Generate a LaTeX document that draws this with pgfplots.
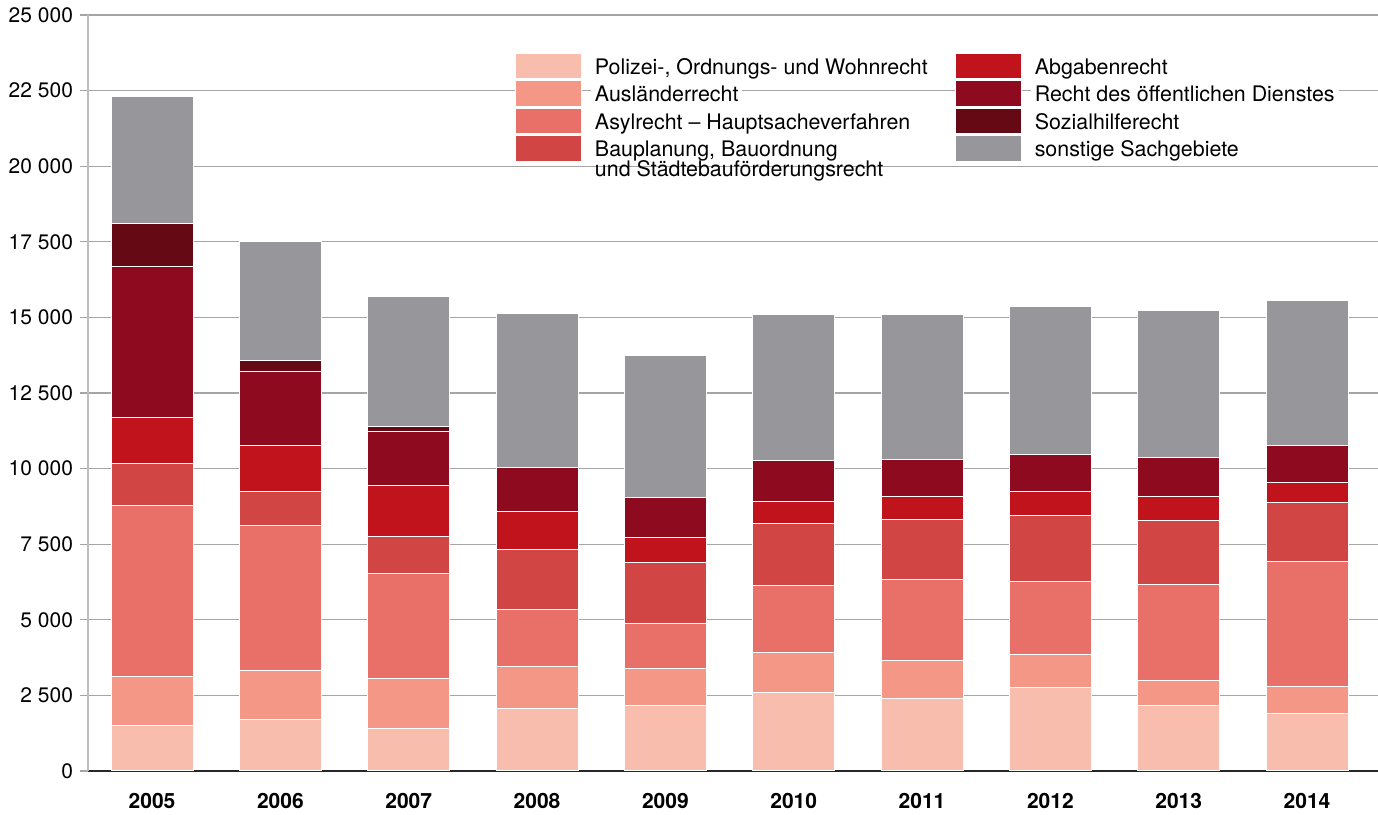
\documentclass[border=0pt]{standalone}
\usepackage{pgfplots}
\usepackage{pgfplotstable}
\pgfplotsset{compat=1.18}
\usepackage{fontspec}
\setmainfont{TeX Gyre Heros}
\definecolor{cPol}{RGB}{249,189,174}
\definecolor{cAus}{RGB}{245,151,134}
\definecolor{cAsy}{RGB}{233,112,104}
\definecolor{cBau}{RGB}{209,70,69}
\definecolor{cAbg}{RGB}{193,19,28}
\definecolor{cOeD}{RGB}{142,10,30}
\definecolor{cSoz}{RGB}{101,9,20}
\definecolor{cSon}{RGB}{151,151,155}
\definecolor{gridc}{RGB}{165,165,165}
\definecolor{yaxc}{RGB}{190,190,190}
\pgfplotstableread{
x Pol Aus Asy Bau Abg OeD Soz Son
0 1520 1600 5670 1385 1515 5000 1420 4190
1 1690 1620 4800 1120 1540 2450 360 3920
2 1410 1665 3440 1240 1700 1780 170 4290
3 2070 1380 1890 1990 1250 1450 0 5085
4 2165 1215 1495 2025 830 1315 0 4690
5 2600 1315 2210 2055 730 1360 0 4820
6 2410 1240 2675 1990 760 1215 0 4800
7 2765 1080 2410 2200 795 1215 0 4900
8 2155 840 3160 2135 785 1285 0 4860
9 1890 895 4155 1935 650 1240 0 4805
}\data
\begin{document}
\begin{tikzpicture}
\useasboundingbox (-44pt,-22pt) rectangle (645pt,385.5pt);
\begin{axis}[
  at={(0pt,0pt)}, anchor=south west,
  scale only axis, width=645pt, height=378pt,
  ybar stacked, bar width=41pt,
  xmin=-0.499, xmax=9.553,
  ymin=0, ymax=25000,
  axis lines*=left,
  x axis line style={black!85, line width=1.1pt},
  y axis line style={yaxc, line width=0.8pt},
  xtick={0,...,9},
  xticklabels={2005,2006,2007,2008,2009,2010,2011,2012,2013,2014},
  x tick style={draw=none},
  xticklabel style={font=\fontsize{10.5}{12}\selectfont\bfseries, anchor=base, yshift=-14.5pt},
  ytick={0,2500,...,25000},
  y tick style={gridc, line width=0.6pt},
  tick align=outside, major tick length=4pt,
  yticklabel style={font=\fontsize{10.5}{12}\selectfont},
  scaled y ticks=false,
  /pgf/number format/.cd, 1000 sep={\ }, assume math mode=true, /pgfplots/.cd,
  ymajorgrids, grid style={gridc, line width=0.6pt},
  legend style={
    at={(0.331,0.950)}, anchor=north west,
    draw=none, fill=none, inner sep=0pt, outer sep=0pt,
    legend cell align=left,
    font=\fontsize{10.7}{12.6}\selectfont,
    nodes={fill=white, inner xsep=2pt, inner ysep=0.6pt, anchor=base west},
    /tikz/every odd column/.append style={column sep=4.5pt},
    /tikz/every even column/.append style={column sep=11.5pt},
    row sep=0.6pt,
  },
  transpose legend,
  legend columns=4,
  legend image code/.code={\fill[#1] (0pt,-2.15pt) rectangle (33pt,10.5pt);},
  every axis plot/.append style={draw=white, line width=0.5pt},
]
\addplot[fill=cPol] table[x=x,y=Pol]{\data};
\addlegendentry{Polizei-, Ordnungs- und Wohnrecht}
\addplot[fill=cAus] table[x=x,y=Aus]{\data};
\addlegendentry{Ausländerrecht}
\addplot[fill=cAsy] table[x=x,y=Asy]{\data};
\addlegendentry{Asylrecht – Hauptsacheverfahren}
\addplot[fill=cBau] table[x=x,y=Bau]{\data};
\addlegendentry{\vtop{\baselineskip=10pt\lineskiplimit=-10pt\hbox{Bauplanung, Bauordnung}\hbox{und Städtebauförderungsrecht}}}
\addplot[fill=cAbg] table[x=x,y=Abg]{\data};
\addlegendentry{Abgabenrecht}
\addplot[fill=cOeD] table[x=x,y=OeD]{\data};
\addlegendentry{Recht des öffentlichen Dienstes}
\addplot[fill=cSoz] table[x=x,y=Soz]{\data};
\addlegendentry{Sozialhilferecht}
\addplot[fill=cSon] table[x=x,y=Son]{\data};
\addlegendentry{sonstige Sachgebiete}
\end{axis}
\end{tikzpicture}
\end{document}
